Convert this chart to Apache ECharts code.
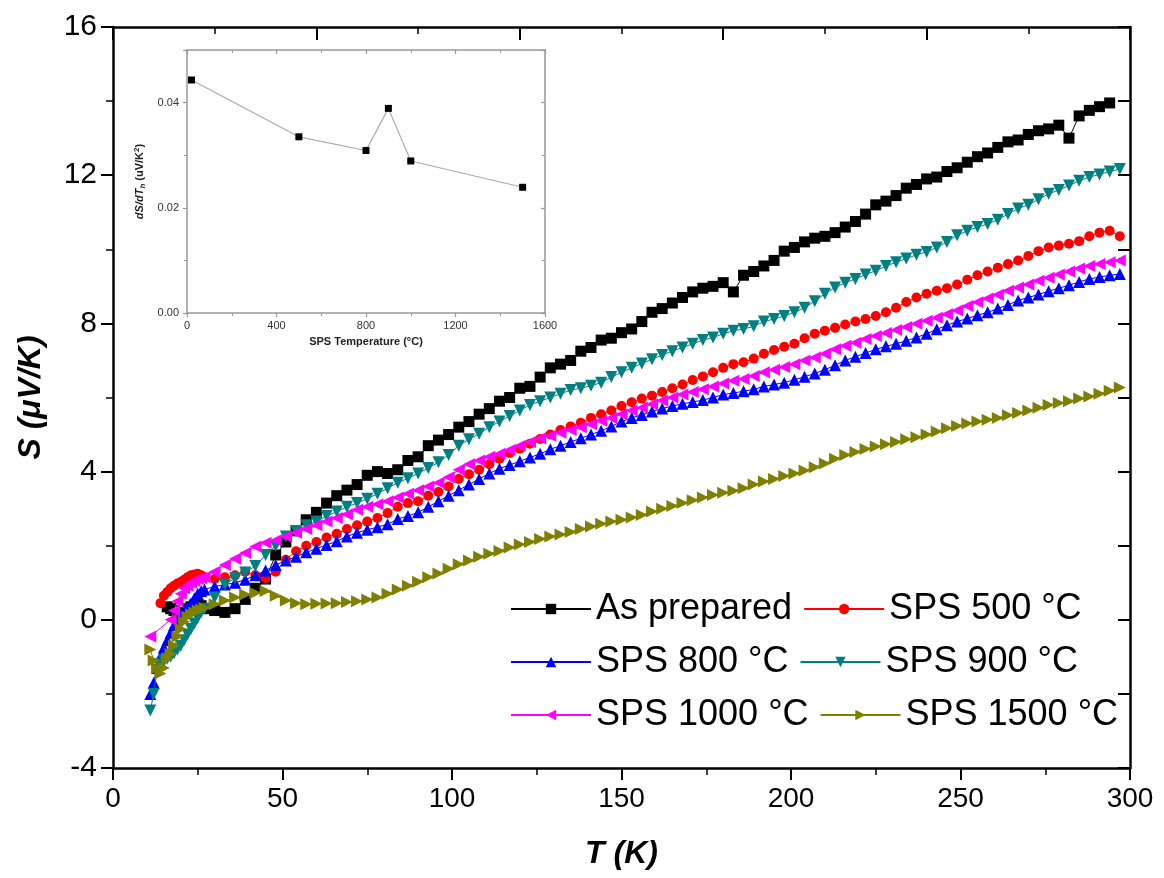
<!DOCTYPE html>
<html>
<head>
<meta charset="utf-8">
<script src="https://cdn.jsdelivr.net/npm/echarts@6/dist/echarts.min.js"></script>
<style>
html,body{margin:0;padding:0;background:#fff;}
#chart{width:1164px;height:878px;}
</style>
</head>
<body>
<div id="chart"></div>
<script>
// ---- temperatures (K) ----
const tempsLow = [11,12,13,14,15,16,17,18,19,20,21,22,23,24,25,26,27];
const tempsHigh = [30,33,36,39,42,45,48,51,54,57,
  60,63,66,69,72,75,78,81,84,87,
  90,93,96,99,102,105,108,111,114,117,
  120,123,126,129,132,135,138,141,144,147,
  150,153,156,159,162,165,168,171,174,177,
  180,183,186,189,192,195,198,201,204,207,
  210,213,216,219,222,225,228,231,234,237,
  240,243,246,249,252,255,258,261,264,267,
  270,273,276,279,282,285,288,291,294,297];

// ---- Seebeck coefficient S (uV/K) ----
const asPrepared = [null,null,null,null,null,0.35,0.3,0.25,0.2,0.1,0.2,0.3,0.35,0.4,0.42,0.38,0.3,
  0.25,0.2,0.3,0.55,0.85,1.1,1.75,2.1,2.4,2.7,
  2.9,3.15,3.35,3.5,3.65,3.9,4.0,3.95,4.05,4.3,
  4.4,4.7,4.85,5.0,5.2,5.35,5.55,5.7,5.9,6.0,
  6.25,6.3,6.55,6.8,6.9,7.0,7.25,7.35,7.55,7.6,
  7.75,7.85,8.05,8.3,8.4,8.55,8.7,8.85,8.95,9.0,
  9.1,8.85,9.3,9.4,9.55,9.7,9.95,10.05,10.2,10.3,
  10.35,10.45,10.6,10.75,10.95,11.2,11.3,11.45,11.65,11.75,
  11.9,11.95,12.1,12.2,12.35,12.5,12.6,12.75,12.9,12.95,
  13.1,13.2,13.25,13.35,13.0,13.6,13.75,13.85,13.95,null];
const sps500 = [null,null,null,0.45,0.65,0.75,0.85,0.92,0.98,1.02,1.08,1.15,1.2,1.22,1.24,1.2,1.15,
  1.1,1.15,1.2,1.3,1.2,1.12,1.3,1.62,1.85,2.0,
  2.1,2.22,2.32,2.45,2.55,2.65,2.75,2.88,3.05,3.15,
  3.2,3.35,3.45,3.6,3.8,3.93,4.05,4.2,4.35,4.5,
  4.62,4.75,4.88,5.0,5.12,5.22,5.32,5.45,5.55,5.65,
  5.77,5.87,5.97,6.05,6.15,6.25,6.35,6.47,6.57,6.68,
  6.8,6.9,6.95,7.05,7.18,7.28,7.37,7.45,7.6,7.72,
  7.8,7.88,7.97,8.05,8.12,8.2,8.3,8.42,8.58,8.7,
  8.8,8.88,8.95,9.05,9.18,9.3,9.4,9.5,9.6,9.7,
  9.82,9.95,10.05,10.1,10.15,10.22,10.35,10.45,10.5,10.35];
const sps800 = [-2.0,-1.7,-1.3,-1.0,-0.75,-0.55,-0.35,-0.15,0.0,0.1,0.22,0.35,0.45,0.58,0.7,0.78,0.82,
  0.9,0.95,1.0,1.08,1.2,1.33,1.48,1.6,1.7,1.82,
  1.92,2.02,2.12,2.25,2.35,2.43,2.5,2.58,2.72,2.8,
  2.9,3.05,3.2,3.35,3.5,3.65,3.8,3.95,4.08,4.18,
  4.28,4.38,4.48,4.6,4.7,4.8,4.9,5.0,5.1,5.22,
  5.35,5.45,5.53,5.62,5.7,5.77,5.83,5.88,5.93,6.0,
  6.08,6.12,6.17,6.22,6.3,6.35,6.4,6.48,6.56,6.65,
  6.75,6.87,7.0,7.1,7.2,7.3,7.38,7.45,7.53,7.62,
  7.72,7.84,7.95,8.05,8.13,8.22,8.3,8.4,8.5,8.62,
  8.7,8.78,8.87,8.95,9.03,9.12,9.2,9.25,9.3,9.33];
const sps900 = [-2.45,-2.0,-1.35,-1.2,-1.1,-1.05,-1.0,-0.9,-0.8,-0.7,-0.55,-0.4,-0.25,-0.1,0.05,0.2,0.3,
  0.6,0.95,1.12,1.28,1.45,1.75,2.0,2.25,2.4,2.55,
  2.65,2.8,2.92,3.05,3.15,3.27,3.4,3.55,3.7,3.82,
  3.95,4.1,4.25,4.45,4.7,4.87,5.02,5.2,5.35,5.5,
  5.65,5.8,5.9,6.0,6.1,6.2,6.25,6.32,6.4,6.55,
  6.68,6.8,6.92,7.03,7.15,7.25,7.35,7.45,7.55,7.62,
  7.72,7.8,7.85,7.92,8.05,8.12,8.2,8.3,8.42,8.6,
  8.8,8.97,9.1,9.2,9.32,9.42,9.55,9.65,9.75,9.85,
  9.93,10.05,10.2,10.38,10.5,10.6,10.68,10.8,10.95,11.1,
  11.2,11.35,11.5,11.6,11.72,11.85,11.95,12.02,12.1,12.17];
const sps1000 = [-0.45,null,null,null,null,null,0.0,0.25,0.5,0.7,0.85,0.92,1.0,1.05,1.1,1.12,1.15,
  1.3,1.48,1.65,1.8,1.98,2.08,2.15,2.25,2.35,2.45,
  2.55,2.65,2.75,2.85,2.97,3.05,3.12,3.2,3.3,3.4,
  3.5,3.6,3.7,3.85,4.05,4.2,4.3,4.4,4.48,4.58,
  4.7,4.8,4.9,4.97,5.05,5.12,5.2,5.28,5.37,5.45,
  5.55,5.65,5.72,5.82,5.92,6.0,6.08,6.15,6.22,6.3,
  6.38,6.45,6.5,6.58,6.68,6.75,6.82,6.9,7.0,7.08,
  7.18,7.3,7.4,7.48,7.58,7.66,7.74,7.82,7.9,7.99,
  8.07,8.15,8.25,8.35,8.47,8.57,8.67,8.77,8.88,8.97,
  9.05,9.15,9.23,9.32,9.4,9.48,9.55,9.6,9.65,9.7];
const sps1500 = [-0.8,-1.1,-1.3,-1.45,-1.3,-1.05,-0.92,-0.7,-0.45,-0.25,-0.05,0.08,0.15,0.2,0.25,0.28,0.32,
  0.42,0.52,0.6,0.68,0.72,0.78,0.65,0.52,0.45,0.42,
  0.43,0.44,0.45,0.48,0.5,0.55,0.6,0.7,0.82,0.92,
  1.03,1.15,1.25,1.38,1.5,1.6,1.7,1.78,1.86,1.95,
  2.03,2.1,2.18,2.25,2.3,2.37,2.45,2.52,2.59,2.65,
  2.7,2.76,2.83,2.92,3.0,3.07,3.15,3.23,3.3,3.37,
  3.43,3.48,3.55,3.65,3.73,3.8,3.88,3.95,4.03,4.12,
  4.22,4.35,4.45,4.53,4.61,4.68,4.74,4.8,4.87,4.93,
  5.0,5.08,5.17,5.23,5.3,5.35,5.4,5.45,5.52,5.58,
  5.65,5.72,5.8,5.85,5.9,5.97,6.03,6.1,6.18,6.27];

const seriesNames = ['As prepared','SPS 500 °C','SPS 800 °C','SPS 900 °C','SPS 1000 °C','SPS 1500 °C'];

// ---- inset: dS/dT vs SPS temperature ----
const insetTemps = [20, 500, 800, 900, 1000, 1500];
const insetSlope = [0.0443, 0.0335, 0.0309, 0.0389, 0.0289, 0.0239];

// ---- axis ticks ----
const mainYTicks = {min:-4, max:16, interval:4};
const mainXTicks = {min:0, max:300, interval:50};

const temps = tempsLow.concat(tempsHigh);
function pairs(vals){
  const out = [];
  temps.forEach((t,i)=>{ if (vals[i] !== null && vals[i] !== undefined) out.push([t, vals[i]]); });
  return out;
}

const FONT = 'Arial, "Liberation Sans", sans-serif';
const styles = [
  {data: asPrepared, color:'#000000', symbol:'rect', size:11, rot:0},
  {data: sps500, color:'#ff0000', symbol:'circle', size:10, rot:0},
  {data: sps800, color:'#0000ff', symbol:'triangle', size:12, rot:0},
  {data: sps900, color:'#008080', symbol:'triangle', size:12, rot:180},
  {data: sps1000, color:'#ff00ff', symbol:'triangle', size:12, rot:90},
  {data: sps1500, color:'#808000', symbol:'triangle', size:12, rot:-90}
];

const mainSeries = styles.map((s,i)=>({
  name: seriesNames[i],
  type:'line',
  xAxisIndex:0, yAxisIndex:0,
  data: pairs(s.data),
  symbol: s.symbol,
  symbolSize: s.size,
  symbolRotate: s.rot,
  showSymbol: true,
  connectNulls: true,
  animation:false,
  itemStyle:{color:s.color},
  lineStyle:{color:s.color, width:1},
  z: 2+i
}));

const noComma = v => String(v);

const chart = echarts.init(document.getElementById('chart'), null, {renderer:'canvas'});
chart.setOption({
  backgroundColor:'#fff',
  animation:false,
  textStyle:{fontFamily:FONT},
  grid:[
    {left:113, right:34, top:27, bottom:110, containLabel:false},
    {left:187, right:619, top:50, bottom:565, containLabel:false}
  ],
  legend:{
    left:505, top:583, width:660,
    orient:'horizontal',
    itemWidth:80, itemHeight:13, itemGap:11,
    textStyle:{fontSize:36, color:'#000', fontFamily:FONT, lineHeight:42, padding:[0,0,0,0]},
    data: seriesNames
  },
  xAxis:[
    {gridIndex:0, type:'value', position:'bottom', min:mainXTicks.min, max:mainXTicks.max, interval:mainXTicks.interval,
     name:'T (K)', nameLocation:'middle', nameGap:70,
     nameTextStyle:{fontSize:32, fontWeight:'bold', fontStyle:'italic', color:'#000', fontFamily:FONT},
     axisLine:{show:true, onZero:false, lineStyle:{color:'#000', width:2.5}},
     axisTick:{show:true, inside:false, length:12, lineStyle:{color:'#000', width:2}},
     minorTick:{show:true, splitNumber:2, length:7, lineStyle:{color:'#000', width:1.5}},
     axisLabel:{fontSize:28, color:'#000', margin:17, fontFamily:FONT, formatter:noComma},
     splitLine:{show:false}},
    {gridIndex:0, type:'value', position:'top', min:0, max:300, interval:60,
     axisLine:{show:true, onZero:false, lineStyle:{color:'#000', width:2.5}},
     axisTick:{show:true, inside:true, length:13, lineStyle:{color:'#000', width:2}},
     minorTick:{show:true, splitNumber:2, length:7, lineStyle:{color:'#000', width:1.5}},
     axisLabel:{show:false}, splitLine:{show:false}},
    {gridIndex:1, type:'value', position:'bottom', min:0, max:1600, interval:400,
     name:'SPS Temperature (°C)', nameLocation:'middle', nameGap:23,
     nameTextStyle:{fontSize:11, fontWeight:'bold', color:'#222', fontFamily:FONT},
     axisLine:{show:true, onZero:false, lineStyle:{color:'#999', width:1.5}},
     axisTick:{show:true, inside:false, length:4, lineStyle:{color:'#999', width:1.2}},
     minorTick:{show:true, splitNumber:2, length:3, lineStyle:{color:'#999', width:1}},
     axisLabel:{fontSize:11, color:'#333', margin:7, fontFamily:FONT, formatter:noComma},
     splitLine:{show:false}},
    {gridIndex:1, type:'value', position:'top', min:0, max:1600, interval:400,
     axisLine:{show:true, onZero:false, lineStyle:{color:'#999', width:1.5}},
     axisTick:{show:true, inside:true, length:4, lineStyle:{color:'#999', width:1.2}},
     minorTick:{show:true, splitNumber:2, length:3, lineStyle:{color:'#999', width:1}},
     axisLabel:{show:false}, splitLine:{show:false}}
  ],
  yAxis:[
    {gridIndex:0, type:'value', position:'left', min:mainYTicks.min, max:mainYTicks.max, interval:mainYTicks.interval,
     name:'S (μV/K)', nameLocation:'middle', nameGap:66, nameRotate:90,
     nameTextStyle:{fontSize:32, fontWeight:'bold', fontStyle:'italic', color:'#000', fontFamily:FONT},
     axisLine:{show:true, onZero:false, lineStyle:{color:'#000', width:2.5}},
     axisTick:{show:true, inside:false, length:12, lineStyle:{color:'#000', width:2}},
     minorTick:{show:true, splitNumber:2, length:7, lineStyle:{color:'#000', width:1.5}},
     axisLabel:{fontSize:30, color:'#000', margin:16, fontFamily:FONT},
     splitLine:{show:false}},
    {gridIndex:0, type:'value', position:'right', min:-4, max:16, interval:2,
     axisLine:{show:true, onZero:false, lineStyle:{color:'#000', width:2.5}},
     axisTick:{show:true, inside:true, length:12, lineStyle:{color:'#000', width:2}},
     axisLabel:{show:false}, splitLine:{show:false}},
    {gridIndex:1, type:'value', position:'left', min:0, max:0.05, interval:0.02,
     name:'{it|dS/dT}{sub|h} (uV/K{sup|2})', nameLocation:'middle', nameGap:40, nameRotate:90,
     nameTextStyle:{fontSize:11, fontWeight:'bold', color:'#222', fontFamily:FONT,
       rich:{it:{fontSize:11, fontStyle:'italic', fontWeight:'bold', color:'#222'},
             sub:{fontSize:8, fontStyle:'italic', fontWeight:'bold', color:'#222', verticalAlign:'bottom', padding:[6,0,0,0]},
             sup:{fontSize:8, fontWeight:'bold', color:'#222', verticalAlign:'top', padding:[0,0,6,0]}}},
     axisLine:{show:true, onZero:false, lineStyle:{color:'#999', width:1.5}},
     axisTick:{show:true, inside:false, length:4, lineStyle:{color:'#999', width:1.2}},
     minorTick:{show:true, splitNumber:2, length:3, lineStyle:{color:'#999', width:1}},
     axisLabel:{fontSize:11, color:'#333', margin:8, fontFamily:FONT, showMaxLabel:false,
       formatter:v => (v > 0.045 ? '' : v.toFixed(2))},
     splitLine:{show:false}},
    {gridIndex:1, type:'value', position:'right', min:0, max:0.05, interval:0.02,
     axisLine:{show:true, onZero:false, lineStyle:{color:'#999', width:1.5}},
     axisTick:{show:true, inside:true, length:4, lineStyle:{color:'#999', width:1.2}},
     minorTick:{show:true, splitNumber:2, length:3, lineStyle:{color:'#999', width:1}},
     axisLabel:{show:false}, splitLine:{show:false}}
  ],
  series: mainSeries.concat([{
    name:'inset', type:'line', xAxisIndex:2, yAxisIndex:2,
    data: insetTemps.map((t,i)=>[t, insetSlope[i]]),
    symbol:'rect', symbolSize:7, showSymbol:true,
    itemStyle:{color:'#000'}, lineStyle:{color:'#aaa', width:1.2},
    animation:false, z:10
  }])
});
</script>
</body>
</html>
